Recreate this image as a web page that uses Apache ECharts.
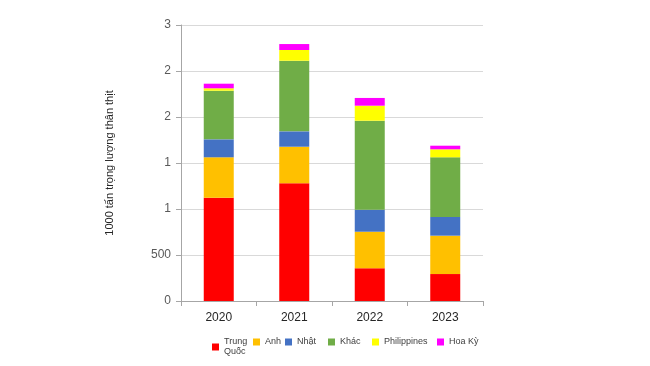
<!DOCTYPE html>
<html><head><meta charset="utf-8">
<script src="https://cdn.jsdelivr.net/npm/echarts@6/dist/echarts.min.js"></script>
<style>html,body{margin:0;padding:0;background:#fff}#c{width:650px;height:366px}</style>
</head><body><div id="c"></div>
<script>
const categories = ['2020', '2021', '2022', '2023'];
const seriesNames = ['Trung Quốc', 'Anh', 'Nhật', 'Khác', 'Philippines', 'Hoa Kỳ'];
const legendLabels = ['Trung\nQuốc', 'Anh', 'Nhật', 'Khác', 'Philippines', 'Hoa Kỳ'];
const trungQuoc = [1123, 1279, 355, 293];
const anh = [439, 398, 398, 417];
const nhat = [195, 167, 239, 203];
const khac = [529, 768, 968, 649];
const philippines = [26, 116, 163, 87];
const hoaKy = [50, 65, 84, 39];
const yTickLabels = ['0', '500', '1', '1', '2', '2', '3'];
const yAxisTitle = '1000 tấn trọng lượng thân thịt';

const values = [trungQuoc, anh, nhat, khac, philippines, hoaKy];
const colors = ['#FF0000', '#FFC000', '#4472C4', '#70AD47', '#FFFF00', '#FF00FF'];
const legendLeft = [207, 248, 280, 323, 367, 432];

const chart = echarts.init(document.getElementById('c'), null, {renderer: 'canvas'});
chart.setOption({
  animation: false,
  color: colors,
  grid: {left: 181, right: 167, top: 25, bottom: 65},
  legend: seriesNames.map((n, i) => ({
    data: [n], left: legendLeft[i], top: 332, itemWidth: 7, itemHeight: 7,
    icon: 'rect', itemGap: 2,
    formatter: () => legendLabels[i],
    textStyle: {fontSize: 9, color: '#404040', fontFamily: 'Liberation Sans, Arial', lineHeight: 10}
  })),
  xAxis: {
    type: 'category', data: categories,
    axisLine: {lineStyle: {color: '#a6a6a6'}},
    axisTick: {show: true, length: 5, lineStyle: {color: '#a6a6a6'}},
    axisLabel: {fontSize: 12, color: '#262626', margin: 11, fontFamily: 'Liberation Sans, Arial'}
  },
  yAxis: {
    type: 'value', min: 0, max: 3000, interval: 500,
    name: yAxisTitle, nameLocation: 'middle', nameGap: 66, nameRotate: 90,
    nameTextStyle: {fontSize: 11, color: '#262626', fontFamily: 'Liberation Sans, Arial'},
    axisLine: {show: true, lineStyle: {color: '#a6a6a6'}},
    axisTick: {show: true, length: 5, lineStyle: {color: '#a6a6a6'}},
    splitLine: {lineStyle: {color: '#d9d9d9'}},
    axisLabel: {fontSize: 12, color: '#595959', margin: 10, fontFamily: 'Liberation Sans, Arial',
      formatter: v => yTickLabels[Math.round(v / 500)]}
  },
  series: seriesNames.map((n, i) => ({
    name: n, type: 'bar', stack: 'total', data: values[i], barWidth: 30,
    itemStyle: {color: colors[i]}
  }))
});
</script></body></html>
